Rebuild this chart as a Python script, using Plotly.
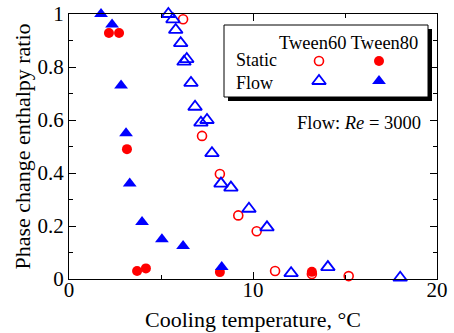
import plotly.graph_objects as go

# Tween60 static (open circles)
t60_static_x = [6.2, 7.23, 8.2, 9.2, 10.2, 11.2, 13.2, 15.2]
t60_static_y = [0.98, 0.54, 0.396, 0.24, 0.18, 0.03, 0.019, 0.011]
# Tween80 static (filled circles)
t80_static_x = [2.17, 2.72, 3.15, 3.70, 4.18, 8.2, 13.2]
t80_static_y = [0.928, 0.928, 0.49, 0.03, 0.04, 0.026, 0.027]
# Tween60 flow (open triangles)
t60_flow_x = [5.4, 5.65, 5.8, 6.07, 6.25, 6.4, 6.63, 6.85, 7.17, 7.5, 7.77, 8.26, 8.8, 9.78, 10.76, 12.07, 14.07, 18.0]
t60_flow_y = [1.0, 0.98, 0.94, 0.89, 0.82, 0.83, 0.74, 0.65, 0.59, 0.60, 0.475, 0.36, 0.345, 0.265, 0.195, 0.022, 0.045, 0.005]
# Tween80 flow (filled triangles)
t80_flow_x = [1.74, 2.34, 2.83, 3.1, 3.3, 3.97, 5.05, 6.2, 8.3]
t80_flow_y = [1.0, 0.96, 0.73, 0.55, 0.36, 0.215, 0.15, 0.125, 0.045]

x_ticks = [0, 10, 20]
y_ticks = [0, 0.2, 0.4, 0.6, 0.8, 1]

RED = "#ff0000"
BLUE = "#0000ff"
FONT = "Liberation Serif"

W, H = 454, 333
L, R, T, B = 69, 17, 14, 54
PW, PH = W - L - R, H - T - B


def px(x):
    return (x - L) / PW


def py(y):
    return (H - B - y) / PH


fig = go.Figure()

circ_open = dict(symbol="circle-open", size=9, color=RED, line=dict(width=1.6, color=RED))
circ_fill = dict(symbol="circle", size=10, color=RED, line=dict(width=0))
tri_open = dict(symbol="triangle-up-open", size=12, color=BLUE, line=dict(width=1.8, color=BLUE))
tri_fill = dict(symbol="triangle-up", size=12, color=BLUE, line=dict(width=0))

fig.add_trace(go.Scatter(x=t80_static_x, y=t80_static_y, mode="markers", marker=circ_fill, cliponaxis=False))
fig.add_trace(go.Scatter(x=t60_static_x, y=t60_static_y, mode="markers", marker=circ_open, cliponaxis=False))
fig.add_trace(go.Scatter(x=t60_flow_x, y=t60_flow_y, mode="markers", marker=tri_open, cliponaxis=False))
fig.add_trace(go.Scatter(x=t80_flow_x, y=t80_flow_y, mode="markers", marker=tri_fill, cliponaxis=False))

# legend-box markers on an overlay axis in paper fractions
leg_x = [px(319), px(379)]
leg_static_y = py(61)
leg_flow_y = py(81)
fig.add_trace(go.Scatter(x=[leg_x[0]], y=[leg_static_y], mode="markers", marker=circ_open, xaxis="x2", yaxis="y2"))
fig.add_trace(go.Scatter(x=[leg_x[1]], y=[leg_static_y], mode="markers", marker=circ_fill, xaxis="x2", yaxis="y2"))
fig.add_trace(go.Scatter(x=[leg_x[0]], y=[leg_flow_y], mode="markers", marker=tri_open, xaxis="x2", yaxis="y2"))
fig.add_trace(go.Scatter(x=[leg_x[1]], y=[leg_flow_y], mode="markers", marker=tri_fill, xaxis="x2", yaxis="y2"))

shapes = [
    dict(type="rect", xref="paper", yref="paper", layer="below",
         x0=px(228), x1=px(432), y0=py(101), y1=py(29),
         fillcolor="black", line=dict(width=0)),
    dict(type="rect", xref="paper", yref="paper", layer="below",
         x0=px(224), x1=px(428), y0=py(97), y1=py(25),
         fillcolor="white", line=dict(width=1, color="black")),
]

ann_font = dict(family=FONT, size=18.5, color="black")
annotations = [
    dict(text="Tween60 Tween80", xref="paper", yref="paper", x=px(420), y=py(43),
         xanchor="right", yanchor="middle", showarrow=False, font=ann_font),
    dict(text="Static<br>Flow", xref="paper", yref="paper", x=px(234), y=py(72),
         xanchor="left", yanchor="middle", align="left", showarrow=False,
         font=dict(family=FONT, size=18, color="black")),
    dict(text="Flow: <i>Re</i> = 3000", xref="paper", yref="paper", x=px(423), y=py(123),
         xanchor="right", yanchor="middle", showarrow=False, font=ann_font),
]

axis_common = dict(
    showline=True, linecolor="black", linewidth=1, mirror="ticks",
    ticks="inside", ticklen=7, tickwidth=1, tickcolor="black",
    showgrid=False, zeroline=False, automargin=False,
    tickfont=dict(family=FONT, size=21, color="black"),
)

fig.update_layout(
    width=W, height=H,
    margin=dict(l=L, r=R, t=T, b=B),
    paper_bgcolor="white", plot_bgcolor="white",
    showlegend=False,
    font=dict(family=FONT, color="black"),
    shapes=shapes,
    annotations=annotations,
    xaxis=dict(range=[0, 20], tickvals=x_ticks, ticklabelstandoff=-8,
               minor=dict(dtick=5, ticks="inside", ticklen=4, tickcolor="black", showgrid=False),
               title=dict(text="Cooling temperature, °C", font=dict(family=FONT, size=22, color="black"), standoff=10),
               **axis_common),
    yaxis=dict(range=[0, 1], tickvals=y_ticks,
               minor=dict(dtick=0.1, ticks="inside", ticklen=4, tickcolor="black", showgrid=False),
               title=dict(text="Phase change enthalpy ratio", font=dict(family=FONT, size=22, color="black"), standoff=0),
               **axis_common),
    xaxis2=dict(overlaying="x", range=[0, 1], visible=False, fixedrange=True),
    yaxis2=dict(overlaying="y", range=[0, 1], visible=False, fixedrange=True),
)

fig.write_html("out.html")
